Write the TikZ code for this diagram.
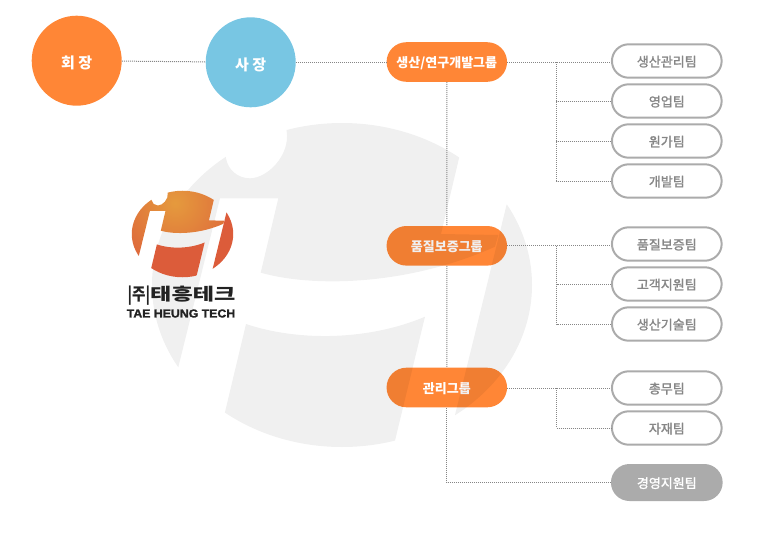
\documentclass[tikz,border=0pt]{standalone}
\usepackage{fontspec}
\setmainfont{Liberation Sans}
\newfontfamily\krfont{Noto Sans CJK KR}
\newfontfamily\krmedium[FakeBold=1.6]{Noto Sans CJK KR}
\newfontfamily\logofont[FakeBold=1.6]{Liberation Sans Bold}
\usetikzlibrary{positioning,shapes.misc}
\definecolor{chairorange}{HTML}{FF8636}
\definecolor{presblue}{HTML}{78C6E3}
\definecolor{teamgray}{HTML}{ABABAB}
\definecolor{teamtext}{HTML}{868686}
\definecolor{logolight}{HTML}{E59A3D}
\definecolor{logobase}{HTML}{DC5C3A}
\definecolor{logotext}{HTML}{222222}
\tikzset{
	person/.style={
		circle, fill=#1, minimum size=90pt, inner sep=0pt,
		text height=17pt, text depth=1.5pt,
		text=white, font=\krfont\fontsize{15}{15}\selectfont\bfseries,
	},
	groupbox/.style={
		rounded rectangle, fill=chairorange, inner sep=0pt,
		minimum width=120.5pt, minimum height=39.6pt,
		text height=12.5pt, text depth=1.5pt,
		text=white, font=\krfont\fontsize{13}{13}\selectfont\bfseries,
	},
	teambox/.style={
		rounded rectangle, draw=teamgray, line width=2pt, fill=white, inner sep=0pt,
		minimum width=109.7pt, minimum height=33.4pt,
		text height=12.5pt, text depth=1.5pt,
		text=teamtext, font=\krmedium\fontsize{13}{13}\selectfont,
	},
	supportbox/.style={
		rounded rectangle, fill=teamgray, inner sep=0pt,
		minimum width=111.7pt, minimum height=37pt,
		text height=12.5pt, text depth=1.5pt,
		text=white, font=\krmedium\fontsize{13}{13}\selectfont,
	},
	link/.style={
		draw=teamtext, line width=1pt, dash pattern=on 1pt off 1pt,
	}
}
\newcommand{\emblemoval}{(342,285) ellipse (190 and 162)}
\newcommand{\emblemmain}{(178.3,367.3) -- (220,198.3) -- (278.3,198.3) -- (260.7,272.7)
	.. controls (315,288) and (410,285) .. (495,246.7) -- (498.3,235) -- (441,234) -- (459,158.3)
	-- (470,110) -- (284,110) -- (286.7,131.7) .. controls (290,155) and (268,178) .. (250,178.3)
	.. controls (238,178.3) and (228,170) .. (226,158.3) -- (222,110) -- (130,110) -- (130,367.3) -- cycle}
\newcommand{\emblemlow}{(246,324) .. controls (300,342) and (370,340) .. (425,316.7)
	-- (385,482) -- (215,454) -- cycle}
\newcommand{\emblemright}{(506.7,204.3) -- (600,204.3) -- (600,500) -- (455,500) -- (455,415) -- cycle}
\begin{document}
\begin{tikzpicture}[x=1pt,y=-1pt,node distance=40pt]
	\useasboundingbox (0,0) rectangle (765,554);

	\node [groupbox] (prod) at (446.8,62) {생산/연구개발그룹};
	\node [groupbox] (qual) at (446.8,245.8) {품질보증그룹};
	\node [groupbox] (admin) at (446.8,387.5) {관리그룹};

	\begin{scope}
		\clip \emblemoval;
		\fill [black, opacity=0.06] \emblemmain;
		\fill [black, opacity=0.06] \emblemlow;
		\fill [black, opacity=0.06] \emblemright;
	\end{scope}

	\begin{scope}[shift={(182.5,234)},scale=0.267,shift={(-342,-285)}]
		\begin{scope}
			\clip \emblemoval;
			\fill [logobase] \emblemlow;
			\fill [logobase] \emblemright;
			\clip \emblemmain;
			\shade [inner color=logolight, outer color=logobase] (314,169) circle (300);
		\end{scope}
	\end{scope}
	\node [text=logotext, inner sep=0pt] (logoko) at (181.5,296) {\krfont\bfseries\fontsize{17}{17}\selectfont\scalebox{0.86}[1]{|주|}\scalebox{1.36}[1]{태흥테크}};
	\node [text=logotext, inner sep=0pt] (logoen) at (181,313.5) {\scalebox{1.07}[1]{\logofont\fontsize{11.5}{11.5}\selectfont TAE HEUNG TECH}};

	\node [person=chairorange] (chair) at (76.7,60.7) {회 장};
	\node [person=presblue] (pres) at (250.7,62.3) {사 장};

	\node [teambox] (mgmt) at (666.8,61) {생산관리팀};
	\node [teambox, below of=mgmt] (sales) {영업팀};
	\node [teambox, below of=sales] (cost) {원가팀};
	\node [teambox, below of=cost] (devel) {개발팀};
	\node [teambox] (assur) at (666.8,244) {품질보증팀};
	\node [teambox, below of=assur] (client) {고객지원팀};
	\node [teambox, below of=client] (techn) {생산기술팀};
	\node [teambox] (general) at (666.8,388) {총무팀};
	\node [teambox, below of=general] (stock) {자재팀};
	\node [supportbox] (support) at (666.8,482.5) {경영지원팀};

	\coordinate (prodbus) at (556.5,62);
	\coordinate (qualbus) at (556.5,245.5);
	\coordinate (adminbus) at (556.5,388);

	\path [link] (chair) -- (pres);
	\path [link] (pres.east) -- (pres.east -| prod.west);
	\path [link] (prod) -- (qual);
	\path [link] (qual) -- (admin);
	\path [link] (admin) |- (support);

	\path [link] (prod.east) -- (prod.east -| mgmt.west);
	\path [link] (prodbus) |- (sales);
	\path [link] (prodbus) |- (cost);
	\path [link] (prodbus) |- (devel);

	\path [link] (qual.east) -- (qual.east -| assur.west);
	\path [link] (qualbus) |- (client);
	\path [link] (qualbus) |- (techn);

	\path [link] (adminbus -| admin.east) -- (general);
	\path [link] (adminbus) |- (stock);
\end{tikzpicture}
\end{document}
